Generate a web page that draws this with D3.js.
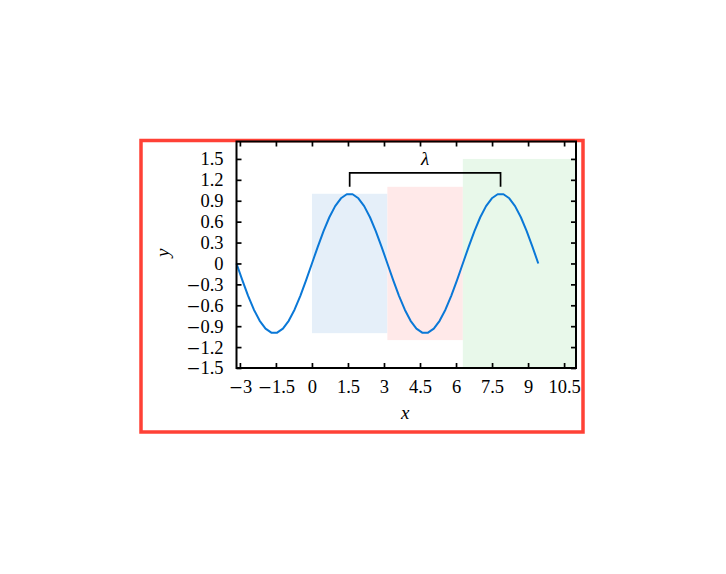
<!DOCTYPE html>
<html>
<head>
<meta charset="utf-8">
<script src="https://cdn.jsdelivr.net/npm/d3@7/dist/d3.min.js"></script>
<style>
  html, body { margin: 0; padding: 0; background: #fff; }
  svg { display: block; }
  text { font-family: "Liberation Serif", "DejaVu Serif", serif; fill: #000; }
</style>
</head>
<body>
<svg id="chart" width="726" height="574"></svg>
<script>
// ---- data ----
const xs = [-3.142, -2.900, -2.658, -2.417, -2.175, -1.933, -1.692, -1.450, -1.208, -0.967,
  -0.725, -0.483, -0.242, 0.000, 0.242, 0.483, 0.725, 0.967, 1.208, 1.450,
  1.692, 1.933, 2.175, 2.417, 2.658, 2.900, 3.142, 3.383, 3.625, 3.867,
  4.108, 4.350, 4.592, 4.833, 5.075, 5.316, 5.558, 5.800, 6.042, 6.283,
  6.525, 6.767, 7.008, 7.250, 7.492, 7.733, 7.975, 8.217, 8.458, 8.700,
  8.942, 9.184, 9.425];
const ys = [0.000, -0.239, -0.465, -0.663, -0.823, -0.935, -0.993, -0.993, -0.935, -0.823,
  -0.663, -0.465, -0.239, 0.000, 0.239, 0.465, 0.663, 0.823, 0.935, 0.993,
  0.993, 0.935, 0.823, 0.663, 0.465, 0.239, 0.000, -0.239, -0.465, -0.663,
  -0.823, -0.935, -0.993, -0.993, -0.935, -0.823, -0.663, -0.465, -0.239, 0.000,
  0.239, 0.465, 0.663, 0.823, 0.935, 0.993, 0.993, 0.935, 0.823, 0.663,
  0.465, 0.239, 0.000];
const xTicks = [-3, -1.5, 0, 1.5, 3, 4.5, 6, 7.5, 9, 10.5];
const yTicks = [-1.5, -1.2, -0.9, -0.6, -0.3, 0, 0.3, 0.6, 0.9, 1.2, 1.5];
const xDomain = [-3.1416, 10.9956];
const yDomain = [-1.5, 1.75];
// shaded regions
const regionX0 = [0, 3.1416, 6.2832];
const regionX1 = [3.1416, 6.2832, 10.9956];
const regionY0 = [-1.0, -1.1, -1.5];
const regionY1 = [1.0, 1.1, 1.5];
const regionColors = ["#e5eff9", "#ffe9e9", "#e8f8ea"];
// wavelength bracket
const bracketX = [1.5708, 7.854];
const bracketYTop = 1.3;
const bracketYEnd = 1.1;
const bracketLabel = "λ";
const bracketLabelY = 1.5;

// ---- layout ----
const svg = d3.select("#chart");
const L = 236.5, R = 576, T = 141.5, B = 368;
const x = d3.scaleLinear().domain(xDomain).range([L, R]);
const y = d3.scaleLinear().domain(yDomain).range([B, T]);

function labelTick(sel) {
  sel.each(function(d) {
    const t = d3.select(this);
    t.text(null);
    if (d < 0) {
      t.append("tspan").attr("font-family", "'DejaVu Serif', serif").attr("font-size", 17)
        .attr("font-weight", 300).text("\u2212");
    }
    t.append("tspan").text(String(Math.abs(d)));
  });
}

// red frame
svg.append("rect").attr("x", 141).attr("y", 140.5).attr("width", 442).attr("height", 291.5)
  .attr("fill", "none").attr("stroke", "#ff4136").attr("stroke-width", 3.5);

// regions
svg.append("g").selectAll("rect").data(regionX0).join("rect")
  .attr("x", (d, i) => x(d))
  .attr("width", (d, i) => x(regionX1[i]) - x(d))
  .attr("y", (d, i) => y(regionY1[i]))
  .attr("height", (d, i) => y(regionY0[i]) - y(regionY1[i]))
  .attr("fill", (d, i) => regionColors[i]);

// curve
const line = d3.line().x((d, i) => x(xs[i])).y((d, i) => y(d));
svg.append("path").datum(ys).attr("d", line)
  .attr("fill", "none").attr("stroke", "#0a78d7").attr("stroke-width", 2)
  .attr("stroke-linejoin", "round");

// bracket
svg.append("path")
  .attr("d", `M${x(bracketX[0])},${y(bracketYEnd)}V${y(bracketYTop)}H${x(bracketX[1])}V${y(bracketYEnd)}`)
  .attr("fill", "none").attr("stroke", "#000").attr("stroke-width", 1.7);
svg.append("text").attr("x", x((bracketX[0] + bracketX[1]) / 2)).attr("y", y(bracketLabelY) + 6)
  .attr("text-anchor", "middle").attr("font-size", 19).attr("font-style", "italic").text(bracketLabel);

// axes with inward ticks
const axB = svg.append("g").attr("transform", `translate(0,${B})`)
  .call(d3.axisBottom(x).tickValues(xTicks).tickSizeInner(-5).tickSizeOuter(0).tickPadding(12));
const axT = svg.append("g").attr("transform", `translate(0,${T})`)
  .call(d3.axisTop(x).tickValues(xTicks).tickSizeInner(-5).tickSizeOuter(0).tickFormat(""));
const axL = svg.append("g").attr("transform", `translate(${L},0)`)
  .call(d3.axisLeft(y).tickValues(yTicks).tickSizeInner(-5).tickSizeOuter(0).tickPadding(13));
const axR = svg.append("g").attr("transform", `translate(${R},0)`)
  .call(d3.axisRight(y).tickValues(yTicks).tickSizeInner(-5).tickSizeOuter(0).tickFormat(""));
[axB, axT, axL, axR].forEach(g => {
  g.select(".domain").remove();
  g.selectAll(".tick line").attr("stroke", "#000").attr("stroke-width", 1.7);
  g.selectAll(".tick text").attr("font-size", 18.5).attr("fill", "#000")
    .attr("font-family", "'Liberation Serif', serif");
});
axB.selectAll(".tick text").call(labelTick);
axL.selectAll(".tick text").call(labelTick);

// frame of axes
svg.append("rect").attr("x", L).attr("y", T).attr("width", R - L).attr("height", B - T)
  .attr("fill", "none").attr("stroke", "#000").attr("stroke-width", 2);

// axis labels
svg.append("text").attr("x", (L + R) / 2 - 1).attr("y", 419).attr("text-anchor", "middle")
  .attr("font-size", 19).attr("font-style", "italic").text("x");
svg.append("text").attr("transform", `translate(169,${(T + B) / 2 - 2}) rotate(-90)`)
  .attr("text-anchor", "middle").attr("font-size", 19).attr("font-style", "italic").text("y");
</script>
</body>
</html>
